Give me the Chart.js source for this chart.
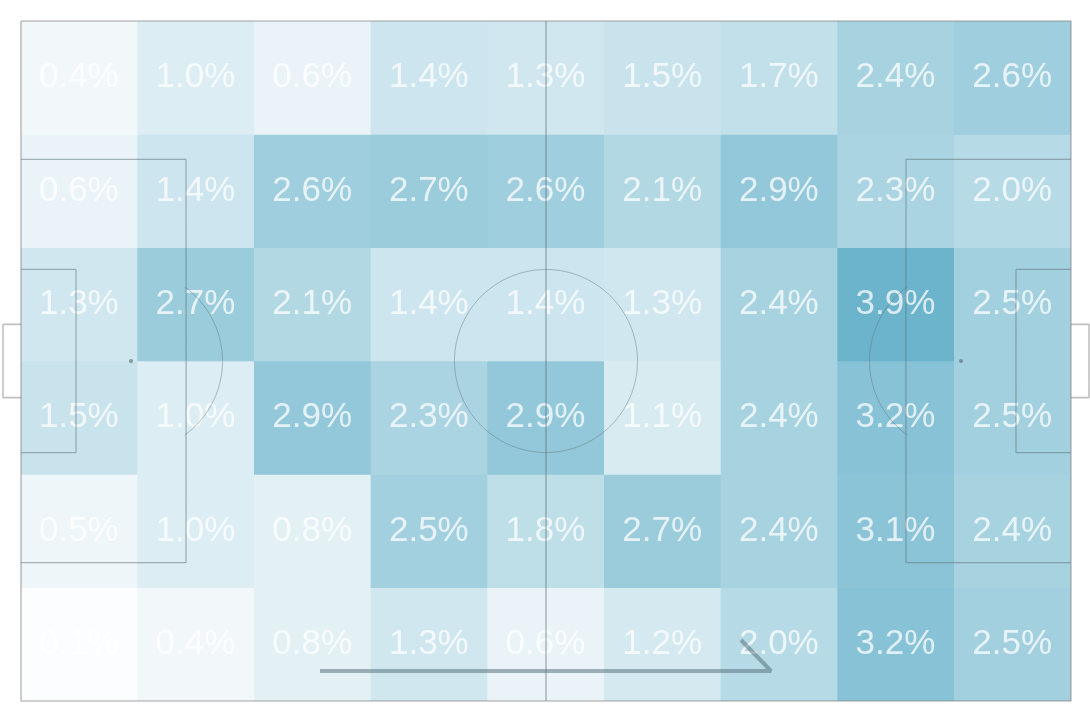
<!DOCTYPE html>
<html>
<head>
<meta charset="utf-8">
<title>Pitch heatmap</title>
<script src="https://cdn.jsdelivr.net/npm/chart.js@4"></script>
<style>
  html, body { margin: 0; padding: 0; background: #fff; }
  canvas { display: block; }
</style>
</head>
<body>
<canvas id="pitchChart" width="1090" height="720"></canvas>
<script>
// Zones, left to right along the pitch
const zones = ['Z1', 'Z2', 'Z3', 'Z4', 'Z5', 'Z6', 'Z7', 'Z8', 'Z9'];

// Share of actions per zone (%), one array per row, top to bottom
const row1 = [0.4, 1.0, 0.6, 1.4, 1.3, 1.5, 1.7, 2.4, 2.6];
const row2 = [0.6, 1.4, 2.6, 2.7, 2.6, 2.1, 2.9, 2.3, 2.0];
const row3 = [1.3, 2.7, 2.1, 1.4, 1.4, 1.3, 2.4, 3.9, 2.5];
const row4 = [1.5, 1.0, 2.9, 2.3, 2.9, 1.1, 2.4, 3.2, 2.5];
const row5 = [0.5, 1.0, 0.8, 2.5, 1.8, 2.7, 2.4, 3.1, 2.4];
const row6 = [0.1, 0.4, 0.8, 1.3, 0.6, 1.2, 2.0, 3.2, 2.5];
const rows = [row1, row2, row3, row4, row5, row6];

// Pitch size in metres
const pitchLength = 105;
const pitchWidth = 68;
const midY = pitchWidth / 2;

// Colour ramp: white up to the highest value
const maxValue = 3.9;
const darkest = [108, 180, 204];

function cellColor(value) {
    const t = Math.pow(value / maxValue, 1.05);
    const mix = darkest.map(c => Math.round(255 + (c - 255) * t));
    return `rgb(${mix[0]}, ${mix[1]}, ${mix[2]})`;
}

// Polyline through a list of [x, y] pairs
function path(pairs) {
    return pairs.map(p => ({ x: p[0], y: p[1] }));
}

// Arc as a polyline, angles in degrees
function arc(cx, cy, r, fromDeg, toDeg) {
    const points = [];
    for (let a = fromDeg; a <= toDeg; a += 2) {
        const rad = a * Math.PI / 180;
        points.push({ x: cx + r * Math.cos(rad), y: cy + r * Math.sin(rad) });
    }
    return points;
}

// Box that opens on one goal line
function box(lineX, depth, halfWidth) {
    return path([[lineX, midY - halfWidth], [lineX + depth, midY - halfWidth], [lineX + depth, midY + halfWidth], [lineX, midY + halfWidth]]);
}

function pitchLine(data, color, width) {
    return {
        type: 'scatter',
        data: data,
        xAxisID: 'pitchX',
        yAxisID: 'y',
        showLine: true,
        pointRadius: 0,
        borderColor: color,
        borderWidth: width,
        borderJoinStyle: 'bevel',
        // tiny tension keeps Chart.js off its fast path, which leaves specks on arcs
        tension: 0.001,
        clip: false,
        order: 1
    };
}

const outerColor = 'rgba(130, 130, 130, 0.5)';
const innerColor = 'rgba(90, 110, 115, 0.5)';
const arrowColor = 'rgba(80, 105, 115, 0.5)';

const lineDatasets = [
    pitchLine(path([[0, 0], [pitchLength, 0], [pitchLength, pitchWidth], [0, pitchWidth], [0, 0]]), outerColor, 1.6),
    pitchLine(box(0, -1.8, 3.66), outerColor, 1.6),
    pitchLine(box(pitchLength, 1.8, 3.66), outerColor, 1.6),
    pitchLine(box(0, 16.5, 20.16), innerColor, 1.2),
    pitchLine(box(pitchLength, -16.5, 20.16), innerColor, 1.2),
    pitchLine(box(0, 5.5, 9.16), innerColor, 1.2),
    pitchLine(box(pitchLength, -5.5, 9.16), innerColor, 1.2),
    pitchLine(path([[52.5, 0], [52.5, pitchWidth]]), innerColor, 1.4),
    pitchLine(arc(52.5, midY, 9.15, 0, 360), innerColor, 0.9),
    pitchLine(arc(11, midY, 9.15, -54, 54), innerColor, 0.9),
    pitchLine(arc(94, midY, 9.15, 126, 234), innerColor, 0.9),
    pitchLine(path([[29.9, 65], [75, 65], [72, 61.9]]), arrowColor, 4)
];

// Penalty spots
const spots = {
    type: 'scatter',
    data: path([[11, midY], [94, midY]]),
    xAxisID: 'pitchX',
    yAxisID: 'y',
    pointRadius: 2,
    pointBorderWidth: 0,
    pointBackgroundColor: 'rgba(90, 110, 115, 0.65)',
    order: 1
};

// One floating bar per cell, spanning its row
const rowHeight = pitchWidth / rows.length;
const cellDatasets = rows.map((values, r) => ({
    type: 'bar',
    data: values.map(() => [r * rowHeight, (r + 1) * rowHeight]),
    backgroundColor: values.map(cellColor),
    borderWidth: 0,
    barPercentage: 1,
    categoryPercentage: 1,
    grouped: false,
    xAxisID: 'x',
    yAxisID: 'y',
    order: 2
}));

// Percent labels go on top of the cells, below the pitch lines
const cellLabels = {
    id: 'cellLabels',
    afterDatasetDraw(chart, args) {
        if (args.index !== 0) return;
        const ctx = chart.ctx;
        ctx.save();
        ctx.font = '35px "Liberation Sans", Arial, sans-serif';
        ctx.fillStyle = 'rgba(255, 255, 255, 0.75)';
        ctx.textAlign = 'center';
        ctx.textBaseline = 'middle';
        rows.forEach((values, r) => {
            values.forEach((v, c) => {
                const x = chart.scales.x.getPixelForValue(c);
                const y = chart.scales.y.getPixelForValue((r + 0.5) * rowHeight);
                ctx.fillText(v.toFixed(1) + '%', x - 0.5, y);
            });
        });
        ctx.restore();
    }
};

new Chart(document.getElementById('pitchChart'), {
    type: 'bar',
    data: {
        labels: zones,
        datasets: [...cellDatasets, ...lineDatasets, spots]
    },
    options: {
        responsive: false,
        animation: false,
        layout: { padding: { left: 21, right: 19, top: 21, bottom: 19 } },
        plugins: {
            legend: { display: false },
            tooltip: { enabled: false }
        },
        scales: {
            x: { type: 'category', display: false },
            pitchX: { type: 'linear', display: false, offset: false, min: 0, max: pitchLength },
            y: { type: 'linear', display: false, reverse: true, min: 0, max: pitchWidth }
        }
    },
    plugins: [cellLabels]
});
</script>
</body>
</html>
